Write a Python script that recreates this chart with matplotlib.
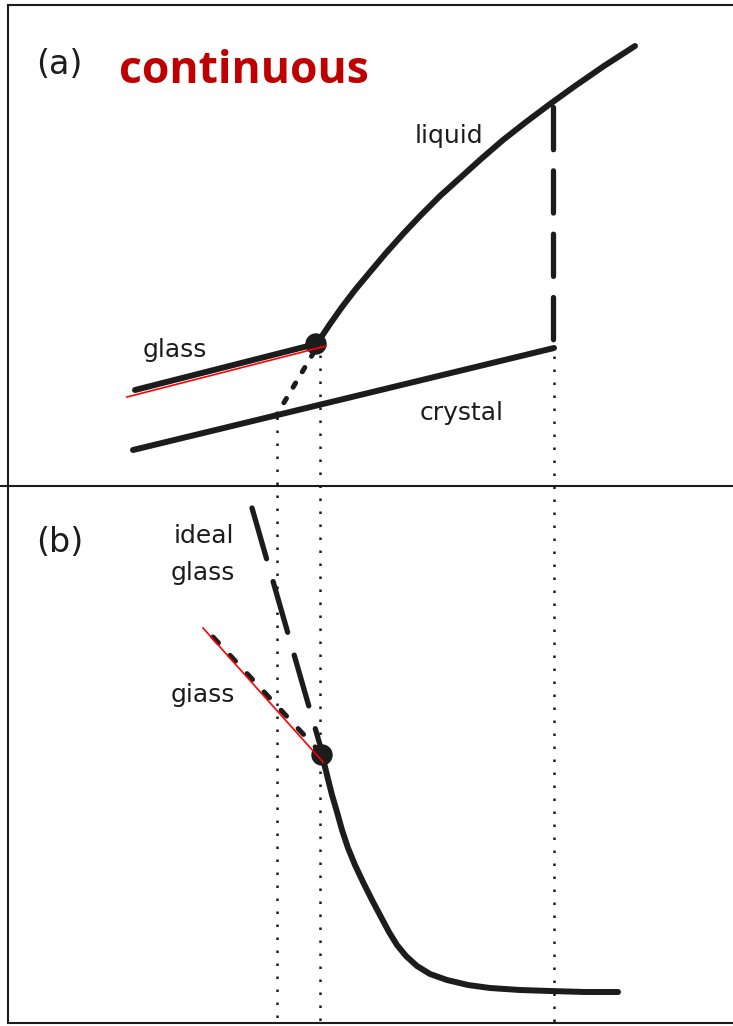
import matplotlib
matplotlib.use('Agg')
import matplotlib.pyplot as plt

# schematic drawn in image coordinates (x right, y down)

# ---- panel (a): volume vs temperature ----
liquid_x = [318, 330, 342, 355, 370, 386, 403, 421, 440, 460, 481, 503, 526, 550, 575, 604, 635]
liquid_y = [342, 324, 307, 290, 272, 253, 234, 215, 196, 178, 159, 140, 122, 104, 86, 66, 46]
glass_a_x = [135, 316]
glass_a_y = [390, 344]
crystal_x = [133, 554]
crystal_y = [450, 348]
melt_x = [553, 553]          # dashed jump liquid -> crystal at Tm
melt_y = [107, 346]
slow_glass_x = [314, 276]    # dashed glass branch down to crystal
slow_glass_y = [352, 416]
red_a_x = [127, 326]
red_a_y = [397, 346]
tg_a = (316, 344)

# ---- panel (b): relaxation / viscosity curve ----
curve_b_x = [322, 327, 332, 337, 342, 348, 355, 363, 372, 381, 389, 397, 406,
             417, 430, 447, 468, 490, 520, 550, 585, 618]
curve_b_y = [755, 775, 795, 812, 830, 848, 865, 882, 900, 917, 932, 945, 956,
             966, 974, 980, 985, 988, 990, 991, 992, 992]
ideal_x = [252, 322]
ideal_y = [508, 752]
glass_b_x = [213, 318]
glass_b_y = [637, 750]
red_b_x = [203, 323]
red_b_y = [628, 762]
tg_b = (322, 755)

# dotted guide lines (x, y_top, y_bottom)
guide_x = [277, 320, 554]
guide_top = [417, 355, 356]
guide_bottom = [1022, 1022, 1022]

ink = '#1c1c1c'

fig = plt.figure(figsize=(7.33, 10.26), dpi=100)
ax = fig.add_axes([0, 0, 1, 1])
ax.set_xlim(0, 733)
ax.set_ylim(1026, 0)
ax.axis('off')

# frame
ax.plot([8, 733], [5, 5], color=ink, lw=1.5)
ax.plot([8, 8], [5, 1023], color=ink, lw=1.5)
ax.plot([0, 733], [486, 486], color=ink, lw=1.5)
ax.plot([8, 733], [1023, 1023], color=ink, lw=1.5)

# dotted verticals
for gx, gt, gb in zip(guide_x, guide_top, guide_bottom):
    ax.plot([gx, gx], [gt, gb], color=ink, lw=1.8, linestyle=(0, (1, 4.2)))

# panel (a)
ax.plot(liquid_x, liquid_y, color=ink, lw=4.3, solid_capstyle='round', solid_joinstyle='round')
ax.plot(glass_a_x, glass_a_y, color=ink, lw=4.3, solid_capstyle='round')
ax.plot(crystal_x, crystal_y, color=ink, lw=4.3, solid_capstyle='round')
ax.plot(melt_x, melt_y, color=ink, lw=3.8, linestyle=(0, (8, 4)), dash_capstyle='round')
ax.plot(slow_glass_x, slow_glass_y, color=ink, lw=3.6, linestyle=(0, (1.0, 2.6)), dash_capstyle='round')
ax.add_patch(plt.Circle(tg_a, 10, color=ink, zorder=3))
ax.plot(red_a_x, red_a_y, color='red', lw=1.2, zorder=5)

# panel (b)
ax.plot(curve_b_x, curve_b_y, color=ink, lw=4.3, solid_capstyle='round', solid_joinstyle='round')
ax.plot(ideal_x, ideal_y, color=ink, lw=3.8, linestyle=(0, (10, 4.5)), dash_capstyle='round')
ax.plot(glass_b_x, glass_b_y, color=ink, lw=3.6, linestyle=(0, (1.6, 3.4)), dash_capstyle='round')
ax.add_patch(plt.Circle(tg_b, 10, color=ink, zorder=3))
ax.plot(red_b_x, red_b_y, color='red', lw=1.2, zorder=5)

# text
lab = dict(color=ink, family='DejaVu Sans', fontsize=18)
ax.text(36, 64, '(a)', color=ink, family='DejaVu Sans', fontsize=24, va='center', ha='left')
ax.text(119, 83, 'continuous', color='#C00000', family='Open Sans', fontweight='bold',
        fontsize=32, va='baseline', ha='left')
ax.text(415, 143, 'liquid', va='baseline', ha='left', **lab)
ax.text(143, 357, 'glass', va='baseline', ha='left', **lab)
ax.text(420, 420, 'crystal', va='baseline', ha='left', **lab)

ax.text(36, 543, '(b)', color=ink, family='DejaVu Sans', fontsize=24, va='center', ha='left')
ax.text(174, 543, 'ideal', va='baseline', ha='left', **lab)
ax.text(171, 580, 'glass', va='baseline', ha='left', **lab)
ax.text(171, 702, 'giass', va='baseline', ha='left', **lab)

fig.savefig('out.png', dpi=100)
